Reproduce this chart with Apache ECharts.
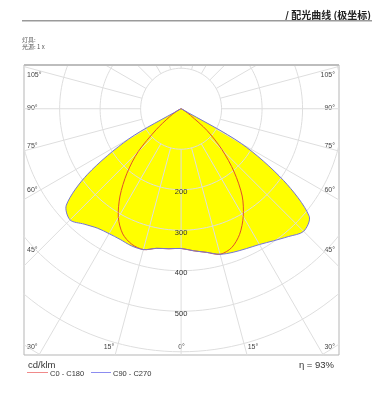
<!DOCTYPE html>
<html><head><meta charset="utf-8">
<script src="https://cdn.jsdelivr.net/npm/echarts@6/dist/echarts.min.js"></script>
<style>html,body{margin:0;padding:0;background:#fff}#c{width:384px;height:414px}</style>
</head><body><div id="c"></div>
<script>
// polar angle from nadir (degrees)
const gamma = [0,5,10,15,20,25,30,35,40,45,50,55,60,65,70,75,80,85,90];
// C0-C180 plane (cd/klm)
const c0   = [345,352,360,372,365,342,307,263,204,143,84,28,10,4,2,1,0.5,0.2,0];
const c180 = [345,347,350,360,356,341,310,263,208,150,80,35,15,6,2,1,0.5,0.2,0];
// C90-C270 plane (cd/klm)
const c90  = [345,352,360,372,377,381,387,398,412,428,413,309,172,2,0.5,0.2,0.1,0,0];
const c270 = [345,347,350,360,360,356,356,360,372,388,370,282,149,2,0.5,0.2,0.1,0,0];
// tick labels
const radiusTicks = [200,300,400,500];
const gridCircles = [100,200,300,400,500,600,700];
const sideAngleLabels = ['105°','90°','75°','60°','45°','30°'];
const bottomAngleLabels = ['15°','0°','15°'];

const RAD = Math.PI/180;
function toXY(r, g, side){ return [side*r*Math.sin(g*RAD), -r*Math.cos(g*RAD)]; }
function curve(left, right){
  const pts = [];
  for (let i = gamma.length-1; i >= 0; i--) pts.push(toXY(left[i], gamma[i], -1));
  for (let i = 1; i < gamma.length; i++) pts.push(toXY(right[i], gamma[i], 1));
  return pts;
}
const redPts = curve(c180, c0);
const bluePts = curve(c270, c90);

const series = [];
const SM = 0.3;
// yellow fill
series.push({
  type:'custom', coordinateSystem:'cartesian2d', data:[[0,0]], z:1, silent:true,
  renderItem:(p, api)=>({type:'group', children:[
    {type:'polygon', shape:{points:bluePts.map(q=>api.coord(q)), smooth:SM}, style:{fill:'#ffff00'}},
    {type:'polygon', shape:{points:redPts.map(q=>api.coord(q)), smooth:SM}, style:{fill:'#ffff00'}}
  ]})
});
// grid circles
gridCircles.forEach(r=>{
  const d=[]; for(let a=0;a<=360;a+=2) d.push(toXY(r,a,1));
  series.push({type:'line', data:d, symbol:'none', silent:true, z:2, clip:true,
    lineStyle:{color:'#dedede', width:1}});
});
// radial lines every 15 deg
for (let a=0; a<360; a+=15){
  series.push({type:'line', data:[toXY(100,a,1), toXY(900,a,1)], symbol:'none', silent:true, z:2, clip:true,
    lineStyle:{color:'#dedede', width:1}});
}
// curves
series.push({
  type:'custom', coordinateSystem:'cartesian2d', data:[[0,0]], z:3, silent:true,
  renderItem:(p, api)=>({type:'group', children:[
    {type:'polyline', shape:{points:redPts.map(q=>api.coord(q)), smooth:SM}, style:{stroke:'#e2502a', lineWidth:1, fill:null}},
    {type:'polyline', shape:{points:bluePts.map(q=>api.coord(q)), smooth:SM}, style:{stroke:'#7474d6', lineWidth:1, fill:null}}
  ]})
});
// radius labels
series.push({
  type:'custom', coordinateSystem:'cartesian2d', data:radiusTicks.map(v=>[0,-v]), z:4, silent:true,
  renderItem:(p, api)=>{ const c=api.coord([api.value(0), api.value(1)]);
    return {type:'text', x:c[0], y:c[1]+2.5, style:{text:String(-api.value(1)), fill:'#333', font:'7.5px "Liberation Sans", sans-serif', align:'center', verticalAlign:'middle'}}; }
});

const chart = echarts.init(document.getElementById('c'), null, {renderer:'canvas'});
const lblFont = '7px "Liberation Sans", sans-serif';
const sideY = [75.5,108,146.5,190,250,347];
const graphics = [];
sideAngleLabels.forEach((t,i)=>{
  graphics.push({type:'text', x:27, y:sideY[i], style:{text:t, fill:'#444', font:lblFont, align:'left', verticalAlign:'middle'}});
  graphics.push({type:'text', x:335, y:sideY[i], style:{text:t, fill:'#444', font:lblFont, align:'right', verticalAlign:'middle'}});
});
[109,181.5,253].forEach((x,i)=>{
  graphics.push({type:'text', x:x, y:347, style:{text:bottomAngleLabels[i], fill:'#444', font:lblFont, align:'center', verticalAlign:'middle'}});
});
graphics.push(
  {type:'text', x:371, y:15.5, style:{text:'/ 配光曲线 (极坐标)', fill:'#222', font:'bold 10px "Noto Sans CJK SC", sans-serif', align:'right', verticalAlign:'middle'}},
  {type:'rect', shape:{x:22, y:20, width:350, height:1.5}, style:{fill:'#9a9a9a'}},
  {type:'text', x:22, y:39.5, style:{text:'灯具:', fill:'#555', font:'6px "Noto Sans CJK SC", sans-serif', align:'left', verticalAlign:'middle'}},
  {type:'text', x:22, y:47, style:{text:'光源: 1 x', fill:'#555', font:'6px "Noto Sans CJK SC", sans-serif', align:'left', verticalAlign:'middle'}},
  {type:'rect', shape:{x:24, y:64, width:315, height:2}, style:{fill:'#bdbdbd'}, z:10},
  {type:'text', x:28, y:365, style:{text:'cd/klm', fill:'#333', font:'9.5px "Liberation Sans", sans-serif', align:'left', verticalAlign:'middle'}},
  {type:'text', x:334, y:365, style:{text:'η = 93%', fill:'#333', font:'9.5px "Liberation Sans", sans-serif', align:'right', verticalAlign:'middle'}},
  {type:'line', shape:{x1:27, y1:372.5, x2:48, y2:372.5}, style:{stroke:'#f08a8a', lineWidth:1}},
  {type:'text', x:50, y:374, style:{text:'C0 - C180', fill:'#333', font:'7.5px "Liberation Sans", sans-serif', align:'left', verticalAlign:'middle'}},
  {type:'line', shape:{x1:91, y1:372.5, x2:111, y2:372.5}, style:{stroke:'#8c8cf0', lineWidth:1}},
  {type:'text', x:113, y:374, style:{text:'C90 - C270', fill:'#333', font:'7.5px "Liberation Sans", sans-serif', align:'left', verticalAlign:'middle'}}
);

chart.setOption({
  animation:false,
  backgroundColor:'#fff',
  grid:{left:24, right:45, top:65, bottom:59, show:true, borderColor:'#b5b5b5', borderWidth:1, backgroundColor:'transparent'},
  xAxis:{type:'value', min:-388, max:390, show:false},
  yAxis:{type:'value', min:-608, max:108, show:false},
  series:series,
  graphic:graphics
});
</script></body></html>
